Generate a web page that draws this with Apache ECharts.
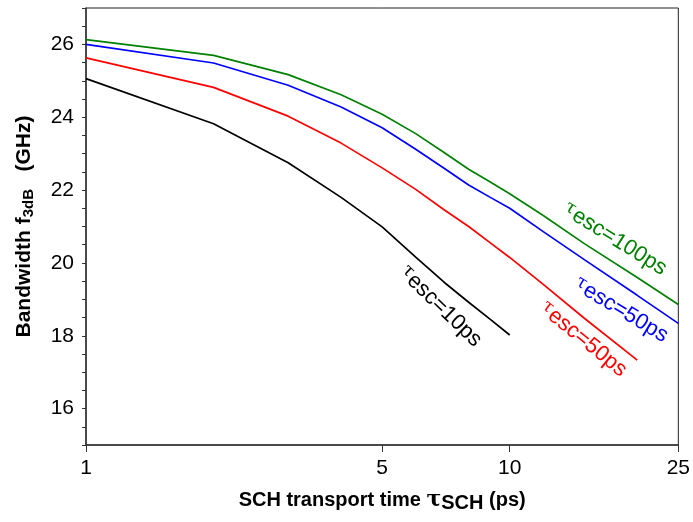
<!DOCTYPE html>
<html>
<head>
<meta charset="utf-8">
<script src="https://cdn.jsdelivr.net/npm/echarts@6/dist/echarts.min.js"></script>
<style>
  html, body { margin: 0; padding: 0; background: #fff; }
  #chart { width: 693px; height: 522px; }
</style>
</head>
<body>
<div id="chart"></div>
<script>
// SCH transport time (ps)
const tauSCH = [1, 2, 3, 4, 5, 6, 7, 8, 9, 10, 12, 15, 20, 25]
// bandwidth f3dB (GHz) for each escape time
const bw10 = [25.06, 23.82, 22.75, 21.8, 20.99, 20.16, 19.47, 18.92, 18.45, 18.02]
const bw50red = [25.63, 24.82, 24.03, 23.29, 22.61, 22.02, 21.46, 21.0, 20.55, 20.15, 19.41, 18.48, 17.33]
const bw50blue = [26.0, 25.49, 24.88, 24.28, 23.71, 23.12, 22.6, 22.14, 21.8, 21.5, 20.86, 20.09, 19.11, 18.34]
const bw100 = [26.13, 25.7, 25.17, 24.62, 24.08, 23.55, 23.03, 22.57, 22.22, 21.9, 21.3, 20.53, 19.6, 18.86]
const xTicks = [1, 5, 10, 25]

const FONT = 'Liberation Sans, Arial, sans-serif'
const pairs = (ys) => ys.map((y, i) => [tauSCH[i], y])

// curve label: position in data space, angle in degrees
const curveLabel = (text, coord, rotate, color) => ({
  silent: true,
  symbol: 'circle',
  symbolSize: 0,
  data: [{ coord }],
  label: {
    show: true,
    position: 'inside',
    formatter: '{t|τ}' + text,
    rotate,
    color,
    fontFamily: FONT,
    fontSize: 22,
    rich: {
      t: { fontSize: 18, color, fontFamily: 'DejaVu Serif', verticalAlign: 'top', padding: [0, 1, 6, 0] },
    },
  },
})

const chart = echarts.init(document.getElementById('chart'), null, { renderer: 'canvas' })

const lineSeries = (name, ys, color, label) => ({
  name, type: 'line',
  data: pairs(ys),
  symbol: 'none',
  lineStyle: { color, width: 1.7 },
  itemStyle: { color },
  markPoint: label,
})

chart.setOption({
  animation: false,
  textStyle: { fontFamily: FONT },
  grid: { left: 86, right: 13, top: 8, bottom: 77, show: true, borderColor: '#222', borderWidth: 1 },
  xAxis: {
    type: 'log',
    logBase: 10,
    min: 1,
    max: 25,
    name: 'SCH transport time {t|τ}{s|SCH} (ps)',
    nameLocation: 'middle',
    nameGap: 43,
    nameTextStyle: {
      color: '#000', fontSize: 20, fontWeight: 'bold', fontFamily: FONT,
      rich: {
        t: { fontSize: 22, fontWeight: 'bold', fontFamily: 'DejaVu Serif', color: '#000' },
        s: { fontSize: 20, fontWeight: 'bold', fontFamily: FONT, color: '#000', padding: [5, 0, 0, 0] },
      },
    },
    axisLine: { lineStyle: { color: '#333', width: 1.5 } },
    axisTick: { show: true, length: 7, customValues: xTicks, lineStyle: { color: '#333' } },
    axisLabel: { customValues: xTicks, color: '#000', fontSize: 21, margin: 13, fontFamily: FONT },
    minorTick: { show: false },
    splitLine: { show: false },
  },
  yAxis: {
    type: 'value',
    min: 15,
    max: 27,
    interval: 0.5,
    name: 'Bandwidth f{sub|3dB}   (GHz)',
    nameLocation: 'middle',
    nameGap: 50,
    nameTextStyle: {
      color: '#000', fontSize: 21, fontWeight: 'bold', fontFamily: FONT,
      rich: {
        sub: { fontSize: 15, fontWeight: 'bold', fontFamily: FONT, color: '#000', padding: [8, 0, 0, 0] },
      },
    },
    axisLine: { show: true, lineStyle: { color: '#333', width: 1.5 } },
    axisTick: { show: true, length: 4, lineStyle: { color: '#333' } },
    axisLabel: {
      color: '#000', fontSize: 21, margin: 12, fontFamily: FONT,
      formatter: (v) => (v % 2 === 0 && v > 15 && v < 27) ? String(v) : '',
    },
    splitLine: { show: false },
  },
  series: [
    lineSeries('10ps', bw10, '#000000', curveLabel('esc=10ps', [6.86, 18.8], -44, '#000000')),
    lineSeries('50ps red', bw50red, '#ff0000', curveLabel('esc=50ps', [14.9, 17.9], -39, '#ff0000')),
    lineSeries('50ps blue', bw50blue, '#0000ff', curveLabel('esc=50ps', [18.3, 18.7], -31, '#0000ff')),
    lineSeries('100ps', bw100, '#008000', curveLabel('esc=100ps', [17.7, 20.65], -32, '#008000')),
  ],
})

window.addEventListener('resize', () => chart.resize())
</script>
</body>
</html>
